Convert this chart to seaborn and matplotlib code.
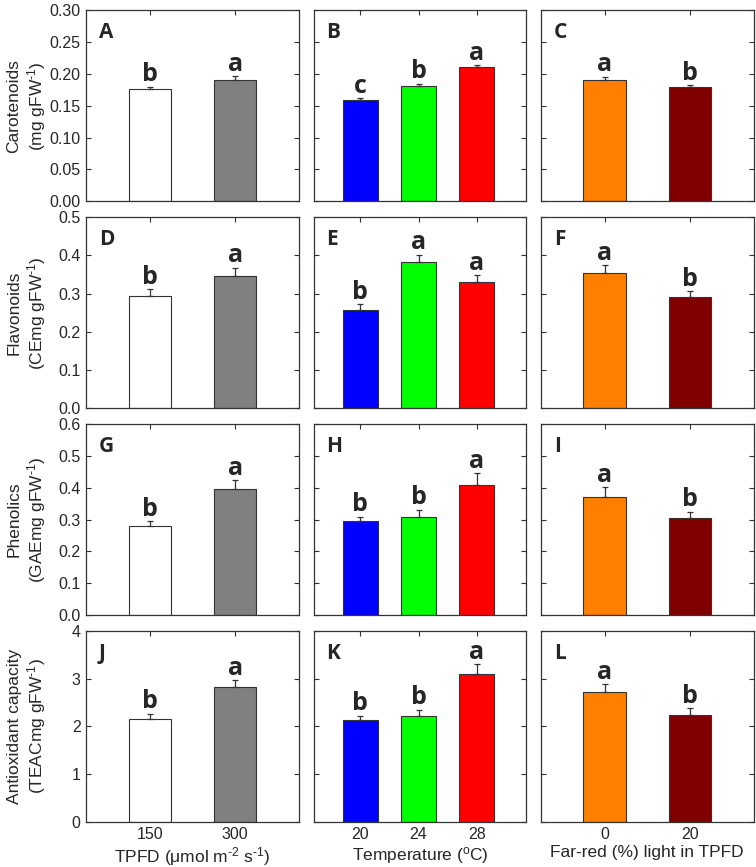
import matplotlib
matplotlib.use("Agg")
import matplotlib.pyplot as plt
import seaborn as sns
import pandas as pd
import numpy as np

sns.set_theme(style="ticks")
plt.rcParams['font.family'] = ['Liberation Sans', 'DejaVu Sans']
plt.rcParams['mathtext.fontset'] = 'custom'
plt.rcParams['mathtext.rm'] = 'Liberation Sans'
plt.rcParams['mathtext.it'] = 'Liberation Sans:italic'
plt.rcParams['mathtext.default'] = 'regular'

# categories
tpfd_levels = ['150', '300']
temp_levels = ['20', '24', '28']
fr_levels = ['0', '20']

# means
carot_tpfd = [0.176, 0.191]
carot_temp = [0.159, 0.181, 0.211]
carot_fr = [0.190, 0.179]
flav_tpfd = [0.293, 0.347]
flav_temp = [0.256, 0.382, 0.331]
flav_fr = [0.353, 0.291]
phen_tpfd = [0.281, 0.397]
phen_temp = [0.297, 0.307, 0.409]
phen_fr = [0.372, 0.304]
antiox_tpfd = [2.15, 2.82]
antiox_temp = [2.13, 2.23, 3.11]
antiox_fr = [2.72, 2.25]

# standard errors (upper bars only)
carot_tpfd_err = [0.004, 0.006]
carot_temp_err = [0.003, 0.004, 0.003]
carot_fr_err = [0.006, 0.004]
flav_tpfd_err = [0.018, 0.021]
flav_temp_err = [0.016, 0.020, 0.017]
flav_fr_err = [0.021, 0.015]
phen_tpfd_err = [0.014, 0.026]
phen_temp_err = [0.012, 0.024, 0.037]
phen_fr_err = [0.029, 0.021]
antiox_tpfd_err = [0.12, 0.15]
antiox_temp_err = [0.10, 0.12, 0.19]
antiox_fr_err = [0.17, 0.14]

# significance letters
carot_tpfd_sig = ['b', 'a']
carot_temp_sig = ['c', 'b', 'a']
carot_fr_sig = ['a', 'b']
flav_tpfd_sig = ['b', 'a']
flav_temp_sig = ['b', 'a', 'a']
flav_fr_sig = ['a', 'b']
phen_tpfd_sig = ['b', 'a']
phen_temp_sig = ['b', 'b', 'a']
phen_fr_sig = ['a', 'b']
antiox_tpfd_sig = ['b', 'a']
antiox_temp_sig = ['b', 'b', 'a']
antiox_fr_sig = ['a', 'b']

tpfd_colors = ['#ffffff', '#808080']
temp_colors = ['#0000ff', '#00ff00', '#ff0000']
fr_colors = ['#ff8000', '#800000']

sup = r'$^{\text{-}1}$'
row_ylabels = ['Carotenoids\n(mg gFW' + sup + ')',
               'Flavonoids\n(CEmg gFW' + sup + ')',
               'Phenolics\n(GAEmg gFW' + sup + ')',
               'Antioxidant capacity\n(TEACmg gFW' + sup + ')']
row_yticks = [np.arange(0, 0.301, 0.05), np.arange(0, 0.501, 0.1),
              np.arange(0, 0.601, 0.1), np.arange(0, 4.01, 1)]
row_fmt = ['{:.2f}', '{:.1f}', '{:.1f}', '{:.0f}']
col_xlabels = ['TPFD (\u03bcmol m' + r'$^{\text{-}2}$' + ' s' + sup + ')',
               'Temperature ($^{o}$C)',
               'Far-red (%) light in TPFD']
col_levels = [tpfd_levels, temp_levels, fr_levels]
col_colors = [tpfd_colors, temp_colors, fr_colors]
col_width = [0.5, 0.6, 0.5]
col_xlim = [(-0.75, 1.75), (-0.8, 2.85), (-0.75, 1.75)]

means = [[carot_tpfd, carot_temp, carot_fr],
         [flav_tpfd, flav_temp, flav_fr],
         [phen_tpfd, phen_temp, phen_fr],
         [antiox_tpfd, antiox_temp, antiox_fr]]
errs = [[carot_tpfd_err, carot_temp_err, carot_fr_err],
        [flav_tpfd_err, flav_temp_err, flav_fr_err],
        [phen_tpfd_err, phen_temp_err, phen_fr_err],
        [antiox_tpfd_err, antiox_temp_err, antiox_fr_err]]
sigs = [[carot_tpfd_sig, carot_temp_sig, carot_fr_sig],
        [flav_tpfd_sig, flav_temp_sig, flav_fr_sig],
        [phen_tpfd_sig, phen_temp_sig, phen_fr_sig],
        [antiox_tpfd_sig, antiox_temp_sig, antiox_fr_sig]]
panel_tags = ['ABC', 'DEF', 'GHI', 'JKL']

edge = '#333333'

fig, axes = plt.subplots(4, 3, figsize=(7.56, 8.67), dpi=100)
fig.subplots_adjust(left=0.114, right=0.997, top=0.988, bottom=0.052,
                    wspace=0.068, hspace=0.084)

for r in range(4):
    for c in range(3):
        ax = axes[r, c]
        df = pd.DataFrame({'level': col_levels[c], 'value': means[r][c]})
        sns.barplot(data=df, x='level', y='value', hue='level',
                    palette=col_colors[c], legend=False, errorbar=None,
                    saturation=1, width=col_width[c], edgecolor=edge,
                    linewidth=0.8, ax=ax)
        pos = np.arange(len(col_levels[c]))
        m = np.array(means[r][c])
        e = np.array(errs[r][c])
        ax.errorbar(pos, m, yerr=[np.zeros_like(e), e], fmt='none',
                    ecolor=edge, elinewidth=0.9, capsize=2.5, capthick=0.9)
        for i, s in enumerate(sigs[r][c]):
            ax.annotate(s, (pos[i], m[i] + e[i]), xytext=(0, -0.5),
                        textcoords='offset points', ha='center', va='bottom',
                        fontsize=18, fontweight='bold', family='Open Sans')
        ax.text(0.06, 0.885, panel_tags[r][c], transform=ax.transAxes,
                fontsize=15, fontweight='bold', family='Open Sans',
                ha='left', va='center')

        ax.set_xlim(*col_xlim[c])
        ax.set_yticks(row_yticks[r])
        ax.set_ylim(0, row_yticks[r][-1])
        ax.tick_params(direction='in', top=True, right=True, length=3.5,
                       width=0.8, color=edge, labelsize=11.5, pad=4)
        for sp in ax.spines.values():
            sp.set_color(edge)
            sp.set_linewidth(0.9)

        if c == 0:
            ax.set_yticklabels([row_fmt[r].format(v) for v in row_yticks[r]])
            ax.set_ylabel(row_ylabels[r], fontsize=12.5)
            ax.yaxis.set_label_coords(-0.18, 0.5)
        else:
            ax.set_yticklabels([])
            ax.set_ylabel('')

        if r == 3:
            ax.set_xlabel(col_xlabels[c], fontsize=12.5, labelpad=2)
        else:
            ax.set_xticklabels([])
            ax.set_xlabel('')

fig.savefig('out.png', dpi=100)
